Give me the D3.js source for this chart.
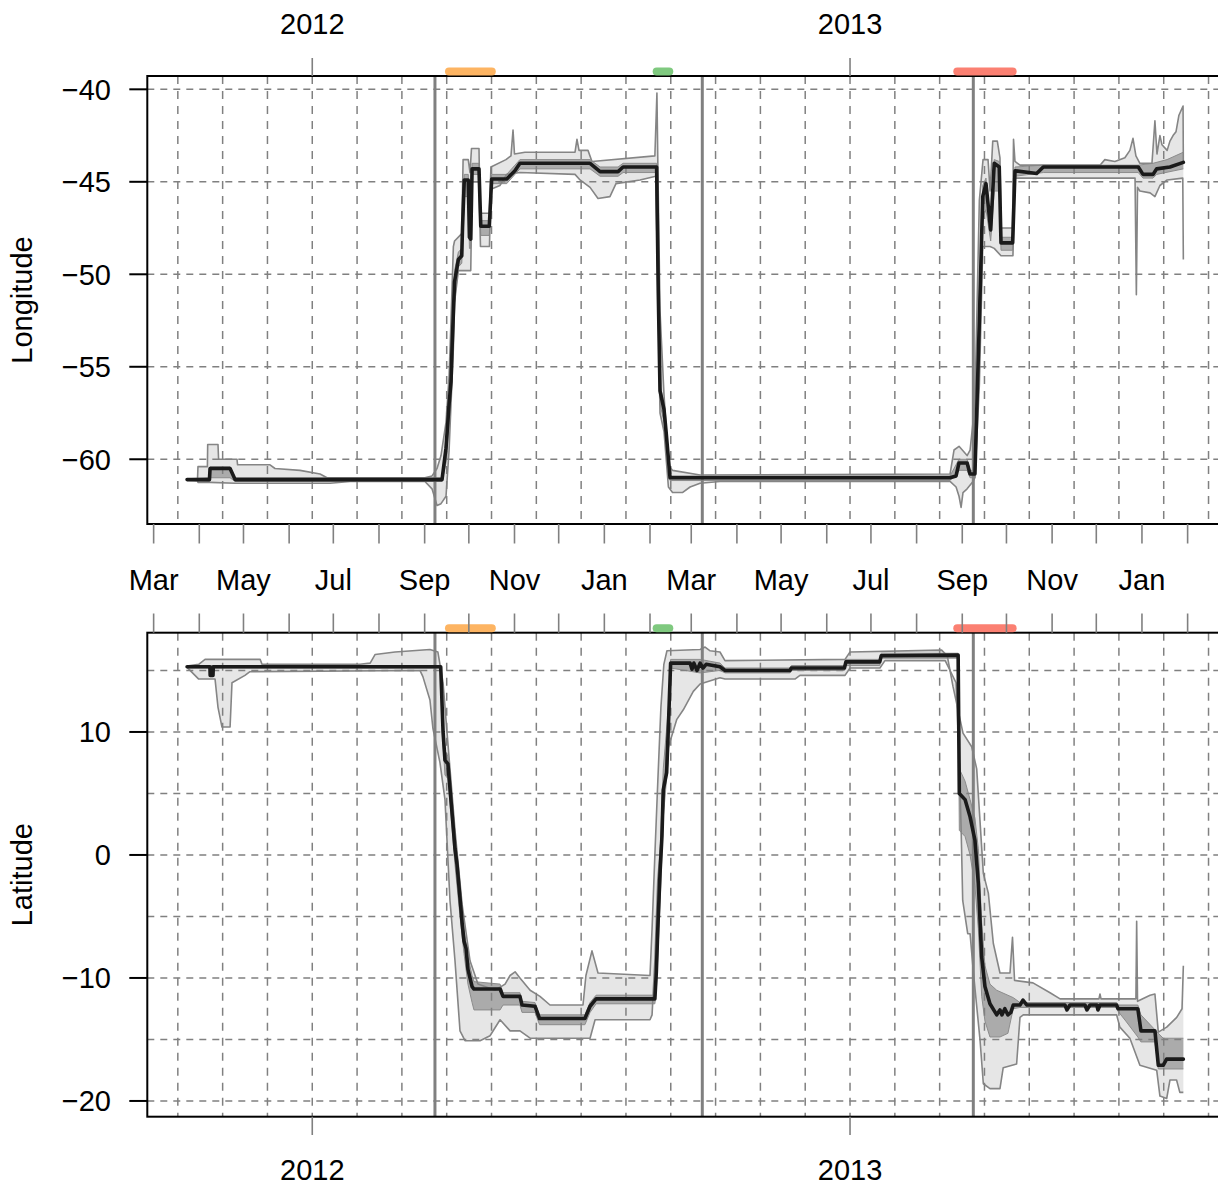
<!DOCTYPE html>
<html><head><meta charset="utf-8">
<script src="https://cdn.jsdelivr.net/npm/d3@7"></script>
<style>
body{margin:0;background:#fff}
svg{display:block}
text{font-family:"Liberation Sans",Arial,Helvetica,sans-serif;fill:#000}
</style>
</head><body>
<svg id="c" width="1218" height="1186"></svg>
<script>
// ---------- DATA (x = days since 2012-03-01, UTC) ----------
const originUTC = Date.UTC(2012, 2, 1);

// Longitude: median and credible bands
const lonMed = [[22.7,-61.1],[37.9,-61.1],[38.3,-60.5],[51.9,-60.5],[55.3,-61.1],[195.8,-61.1],[198.5,-59.4],[200.6,-57.0],[201.9,-55.8],[202.6,-54.0],[203.5,-52.1],[204.3,-50.4],[206.9,-49.2],[209.2,-49.0],[209.7,-47.5],[210.9,-44.9],[213.6,-44.9],[214.4,-48.0],[215.3,-48.1],[216.2,-44.3],[220.9,-44.3],[222.1,-47.4],[227.9,-47.4],[229.5,-44.85],[239.7,-44.85],[245.3,-44.4],[248.7,-44.0],[296.3,-44.0],[303.1,-44.45],[315.3,-44.45],[318.7,-44.2],[341.5,-44.2],[342.6,-50.9],[343.8,-56.3],[346.5,-57.3],[347.9,-58.5],[350.6,-61.0],[540.7,-61.0],[544.8,-60.9],[546.8,-60.2],[552.3,-60.2],[554.3,-60.8],[557.6,-60.8],[560.6,-52.5],[562.9,-45.8],[565.1,-45.1],[568.3,-47.6],[570.7,-44.0],[574.1,-44.2],[575.3,-48.3],[583.2,-48.3],[584.8,-44.4],[599.5,-44.55],[604.0,-44.2],[668.5,-44.2],[671.7,-44.6],[678.5,-44.6],[681.0,-44.3],[690.0,-44.2],[699.1,-43.95]];
const lonHi95 = [[22.7,-61.1],[29.8,-61.05],[30.1,-60.4],[36.5,-60.4],[36.7,-59.2],[43.7,-59.2],[44.1,-60.0],[56.6,-60.0],[57.0,-60.3],[79.0,-60.3],[82.4,-60.5],[99.4,-60.6],[113.0,-60.8],[117.7,-61.0],[184.2,-61.0],[189.0,-60.9],[192.4,-60.5],[195.1,-59.8],[198.5,-58.0],[200.6,-55.5],[201.9,-52.5],[203.5,-48.5],[204.3,-48.2],[209.2,-47.8],[210.1,-43.8],[213.6,-43.8],[214.8,-44.5],[215.8,-43.2],[220.9,-43.2],[221.6,-46.7],[228.0,-46.7],[229.0,-44.2],[239.2,-43.8],[242.6,-43.6],[244.0,-42.2],[245.0,-43.5],[252.1,-43.4],[286.1,-43.4],[287.4,-42.7],[288.8,-43.3],[294.9,-43.3],[297.6,-43.9],[340.3,-43.6],[341.7,-40.2],[342.4,-44.5],[343.8,-52.0],[346.5,-56.5],[349.5,-60.3],[352.3,-60.6],[371.0,-60.85],[540.7,-60.8],[543.4,-59.5],[546.8,-59.3],[552.3,-59.8],[554.3,-59.5],[557.6,-57.0],[560.6,-46.0],[563.1,-43.8],[566.5,-43.8],[567.9,-45.5],[569.7,-42.8],[572.8,-42.8],[574.6,-43.7],[575.3,-47.5],[583.1,-47.5],[583.8,-42.7],[584.8,-43.9],[588.2,-44.1],[642.5,-44.1],[645.8,-43.8],[652.6,-43.9],[659.4,-43.7],[662.8,-43.3],[664.9,-42.65],[666.9,-43.6],[669.6,-44.0],[677.8,-44.0],[679.8,-41.7],[681.2,-43.5],[683.2,-42.5],[684.6,-43.0],[688.1,-43.3],[690.0,-42.8],[692.1,-42.5],[694.1,-42.3],[696.1,-41.4],[698.9,-40.9],[699.1,-44.0]];
const lonLo95 = [[22.7,-61.1],[29.8,-61.15],[30.1,-61.25],[38.3,-61.25],[55.3,-61.3],[119.8,-61.3],[133.3,-61.2],[184.2,-61.2],[189.0,-61.6],[192.4,-62.5],[195.1,-62.4],[198.5,-62.0],[200.6,-59.5],[201.9,-57.0],[203.5,-54.0],[204.3,-51.5],[206.9,-49.8],[215.3,-49.8],[216.2,-45.0],[220.9,-45.0],[221.9,-48.5],[228.0,-48.5],[229.0,-45.4],[235.1,-45.2],[239.7,-44.6],[248.7,-44.5],[286.1,-44.6],[289.5,-44.9],[296.3,-45.3],[301.7,-45.9],[309.8,-45.8],[313.9,-45.1],[330.2,-44.9],[340.9,-44.7],[342.6,-52.0],[343.8,-57.5],[346.5,-58.5],[349.5,-61.5],[352.3,-61.8],[359.0,-61.8],[364.2,-61.5],[371.0,-61.3],[384.5,-61.2],[540.7,-61.2],[544.8,-61.5],[546.8,-62.0],[548.2,-62.6],[549.5,-61.8],[552.3,-61.6],[556.3,-61.2],[557.6,-61.0],[560.6,-56.0],[562.9,-48.5],[567.9,-48.5],[570.7,-48.6],[575.3,-49.0],[583.4,-49.0],[584.8,-44.8],[666.3,-44.8],[667.2,-51.1],[668.0,-45.3],[669.6,-45.5],[676.5,-45.6],[679.8,-45.8],[683.2,-45.2],[688.1,-44.9],[698.7,-44.8],[699.1,-49.2]];
const lonHi50 = [[22.7,-61.05],[37.9,-61.0],[38.3,-60.4],[51.9,-60.4],[55.3,-61.0],[195.8,-61.0],[198.5,-59.0],[200.6,-56.5],[202.6,-52.5],[204.3,-49.8],[206.9,-48.8],[209.2,-48.6],[210.9,-44.6],[213.6,-44.6],[214.4,-47.6],[215.3,-47.7],[216.2,-44.0],[220.9,-44.0],[222.1,-47.1],[227.9,-47.1],[229.5,-44.6],[239.7,-44.6],[245.3,-44.1],[248.7,-43.8],[296.3,-43.8],[303.1,-44.2],[315.3,-44.2],[318.7,-44.0],[341.5,-44.0],[342.6,-50.5],[343.8,-56.0],[346.5,-57.0],[350.6,-60.9],[540.7,-60.9],[546.8,-60.0],[552.3,-60.0],[554.3,-60.6],[557.6,-60.6],[560.6,-51.0],[562.9,-45.2],[565.1,-44.8],[568.3,-47.3],[570.7,-43.8],[574.1,-43.9],[575.3,-48.0],[583.2,-48.0],[584.8,-44.2],[604.0,-44.1],[668.5,-44.1],[678.5,-44.0],[688.0,-43.8],[699.1,-43.4]];
const lonLo50 = [[22.7,-61.15],[37.9,-61.2],[38.3,-61.0],[51.9,-61.0],[55.3,-61.2],[195.8,-61.2],[198.5,-60.2],[200.6,-58.0],[202.6,-55.5],[204.3,-51.5],[206.9,-49.6],[209.2,-49.4],[210.9,-45.8],[213.6,-45.8],[214.4,-48.6],[215.3,-48.6],[216.2,-44.6],[220.9,-44.6],[222.1,-47.9],[227.9,-47.9],[229.5,-45.1],[239.7,-45.1],[245.3,-44.6],[248.7,-44.3],[296.3,-44.3],[303.1,-44.7],[315.3,-44.7],[318.7,-44.5],[341.5,-44.5],[342.6,-51.5],[343.8,-57.0],[346.5,-58.0],[350.6,-61.15],[540.7,-61.15],[546.8,-60.6],[552.3,-60.6],[554.3,-61.0],[557.6,-61.0],[560.6,-54.0],[562.9,-47.0],[565.1,-46.5],[568.3,-48.2],[570.7,-45.5],[574.1,-45.5],[575.3,-48.7],[583.2,-48.7],[584.8,-44.7],[604.0,-44.5],[668.5,-44.5],[671.7,-44.8],[678.5,-44.8],[681.0,-44.6],[699.1,-44.3]];

// Latitude: median and credible bands
const latMed = [[22.7,15.3],[38.2,15.3],[38.4,14.6],[40.3,14.6],[40.5,15.3],[194.9,15.3],[196.5,10.0],[197.8,7.7],[199.8,7.4],[202.4,3.7],[204.6,0.5],[206.0,-0.8],[208.0,-3.5],[209.4,-5.5],[210.7,-7.0],[212.1,-7.6],[213.4,-9.3],[214.8,-10.0],[216.2,-10.7],[217.5,-10.9],[235.2,-10.9],[237.2,-11.5],[248.7,-11.5],[250.1,-12.2],[258.9,-12.3],[262.0,-13.3],[292.8,-13.3],[296.3,-12.3],[300.4,-11.7],[340.3,-11.7],[341.3,-9.5],[342.3,-6.0],[343.8,-1.5],[345.1,1.5],[346.0,5.3],[348.3,6.7],[349.5,10.5],[351.0,15.6],[364.2,15.6],[365.5,15.1],[366.8,15.6],[368.9,15.0],[371.0,15.6],[373.0,15.2],[375.1,15.5],[384.5,15.3],[388.0,15.0],[432.0,15.0],[433.0,15.2],[469.0,15.2],[470.0,15.7],[493.0,15.7],[494.0,16.2],[546.2,16.25],[547.0,5.0],[550.9,4.5],[554.3,3.1],[557.6,1.2],[559.9,-2.3],[562.2,-8.3],[564.4,-10.7],[567.8,-12.1],[572.4,-13.0],[574.6,-12.6],[575.9,-13.0],[577.9,-12.5],[580.0,-13.0],[582.0,-12.8],[583.6,-12.2],[588.2,-12.2],[590.2,-11.8],[592.9,-12.2],[618.7,-12.2],[620.1,-12.6],[622.1,-12.2],[632.3,-12.2],[633.6,-12.6],[635.7,-12.2],[640.4,-12.2],[641.1,-12.6],[642.5,-12.2],[653.8,-12.2],[654.7,-12.5],[668.2,-12.5],[670.3,-14.3],[679.8,-14.3],[682.1,-17.1],[685.4,-17.1],[687.7,-16.6],[699.1,-16.6]];
const latHi95 = [[22.7,15.35],[30.6,15.5],[34.9,15.9],[72.3,15.9],[73.6,15.5],[140.1,15.5],[147.0,15.6],[150.4,16.3],[163.9,16.5],[187.6,16.7],[193.0,16.5],[196.5,14.0],[198.5,11.0],[201.2,7.0],[204.6,2.0],[209.4,-4.0],[214.8,-8.6],[220.2,-10.5],[231.8,-11.0],[238.6,-10.5],[242.0,-9.8],[245.4,-9.5],[248.7,-10.0],[255.6,-11.0],[262.3,-11.5],[269.1,-12.2],[291.5,-12.2],[293.5,-9.8],[297.6,-7.8],[301.7,-9.6],[337.0,-9.8],[338.4,-6.0],[340.3,0.0],[342.3,6.0],[344.4,12.0],[346.4,15.5],[348.5,16.6],[371.0,16.7],[374.4,16.9],[377.8,16.6],[384.5,16.5],[387.9,15.8],[469.4,15.9],[472.8,16.5],[535.0,16.65],[538.8,16.2],[542.7,13.7],[549.5,9.9],[555.4,8.8],[558.8,7.0],[563.3,-1.5],[566.7,-3.1],[570.1,-7.2],[574.6,-9.6],[581.4,-9.6],[583.1,-6.7],[584.5,-10.2],[597.0,-10.4],[608.6,-11.2],[615.4,-11.7],[641.8,-11.7],[642.5,-11.3],[643.2,-11.7],[666.9,-11.7],[667.4,-5.4],[668.0,-11.9],[676.5,-11.4],[679.8,-11.3],[682.1,-14.4],[687.8,-14.0],[694.6,-13.2],[698.2,-12.5],[699.1,-9.0]];
const latLo95 = [[22.7,15.25],[30.6,14.3],[41.7,14.3],[43.7,12.0],[46.4,10.4],[51.9,10.4],[53.2,14.0],[62.0,14.6],[65.4,14.9],[180.8,15.0],[182.8,14.5],[187.6,12.6],[189.6,10.3],[194.4,7.5],[197.8,4.5],[201.2,-3.7],[204.6,-8.6],[208.0,-14.3],[211.4,-15.1],[221.6,-15.1],[228.4,-14.7],[235.2,-13.4],[242.0,-14.3],[248.7,-14.3],[255.6,-14.9],[296.3,-14.9],[299.7,-13.4],[337.0,-13.4],[338.4,-13.0],[340.3,-8.6],[342.3,-2.0],[345.1,2.0],[348.3,8.3],[355.1,11.0],[359.6,11.8],[366.4,13.3],[371.0,13.9],[384.5,14.4],[387.9,14.3],[435.4,14.3],[438.8,14.6],[469.4,14.6],[472.8,15.2],[493.1,15.2],[496.5,15.8],[537.4,15.8],[544.8,14.0],[546.8,8.0],[548.2,2.3],[549.3,-3.7],[552.7,-6.4],[554.3,-6.4],[556.6,-9.6],[561.1,-15.1],[563.3,-18.6],[567.8,-19.0],[574.6,-19.0],[576.8,-17.3],[585.9,-17.0],[588.2,-13.2],[590.4,-13.0],[653.8,-13.0],[656.0,-14.0],[662.8,-14.9],[669.6,-17.1],[681.0,-17.5],[683.2,-19.6],[687.8,-19.8],[690.0,-18.3],[694.5,-18.3],[696.7,-19.3],[699.1,-19.3]];
const latHi50 = [[22.7,15.4],[194.9,15.4],[196.5,11.0],[197.8,8.5],[199.8,8.0],[202.4,4.8],[204.6,1.8],[208.0,-2.5],[210.7,-6.0],[213.4,-8.3],[216.2,-9.8],[217.5,-10.3],[235.2,-10.5],[237.2,-11.2],[248.7,-11.2],[250.1,-11.9],[258.9,-12.0],[262.0,-13.0],[292.8,-13.0],[296.3,-12.0],[300.4,-11.4],[340.3,-11.4],[341.3,-8.5],[343.8,0.0],[346.0,7.0],[349.5,12.0],[351.0,15.9],[371.0,15.9],[384.5,15.6],[388.0,15.2],[432.0,15.2],[433.0,15.4],[469.0,15.4],[470.0,15.9],[493.0,15.9],[494.0,16.4],[546.2,16.4],[547.0,7.0],[550.9,6.0],[554.3,4.5],[557.6,3.0],[559.9,0.5],[562.2,-5.5],[564.4,-9.0],[567.8,-10.5],[572.4,-11.0],[583.6,-11.6],[588.2,-12.0],[653.8,-12.0],[654.7,-12.2],[668.2,-12.2],[670.3,-13.0],[682.1,-14.5],[685.4,-14.9],[699.1,-14.9]];
const latLo50 = [[22.7,15.2],[194.9,15.2],[196.5,9.0],[197.8,6.5],[199.8,6.2],[202.4,2.5],[204.6,-0.8],[208.0,-5.0],[210.7,-8.0],[213.4,-10.5],[216.2,-12.0],[217.5,-12.6],[235.2,-12.6],[237.2,-12.2],[248.7,-12.2],[250.1,-12.8],[258.9,-12.8],[262.0,-13.8],[292.8,-13.8],[296.3,-12.8],[300.4,-12.1],[340.3,-12.1],[341.3,-11.0],[343.8,-4.0],[346.0,3.0],[349.5,8.0],[351.0,15.2],[371.0,14.8],[384.5,15.0],[388.0,14.8],[432.0,14.8],[433.0,15.0],[469.0,15.0],[470.0,15.4],[493.0,15.4],[494.0,16.0],[546.2,16.0],[547.0,2.0],[550.9,1.5],[554.3,0.0],[557.6,-2.5],[559.9,-6.0],[562.2,-11.5],[564.4,-13.5],[567.8,-14.8],[574.6,-14.8],[580.0,-14.5],[583.6,-12.5],[588.2,-12.4],[653.8,-12.4],[654.7,-12.7],[660.0,-13.5],[668.2,-14.8],[670.3,-15.2],[679.8,-15.2],[682.1,-17.4],[699.1,-17.4]];

// Migration periods (coloured bars) and equinox lines
const periodStart = [197.8, 338.8, 542.9];
const periodEnd   = [232.3, 352.8, 585.9];
const equinoxDays = [191.0, 372.5, 556.5];

// Axis tick labels
const yearTickDays   = [107.7, 472.8];
const yearTickLabels = ["2012", "2013"];
const lonTicks = [-60, -55, -50, -45, -40];
const latGrid  = [-20, -15, -10, -5, 0, 5, 10, 15];
const latTicks = [-20, -10, 0, 10];

// ---------- STYLES / LAYOUT ----------
const periodColors = ["#FDB462", "#7FC97F", "#FB8072"];
const FONT = 29;
const dayToDate = d => new Date(originUTC + d * 864e5);
const X0 = 147.3, X1 = 1224;

const svg = d3.select("#c");
const x = d3.scaleUtc().domain([dayToDate(-4.3), dayToDate(726.7)]).range([X0, X1]);

const panels = [
  {id:"lon", top:76, bottom:524, dom:[-63.5,-39.28], med:lonMed, hi95:lonHi95, lo95:lonLo95, hi50:lonHi50, lo50:lonLo50, grid:lonTicks, ticks:lonTicks, title:"Longitude"},
  {id:"lat", top:632.7, bottom:1116.7, dom:[-21.28,18.07], med:latMed, hi95:latHi95, lo95:latLo95, hi50:latHi50, lo50:latLo50, grid:latGrid, ticks:latTicks, title:"Latitude"}
];

// vertical grid: monthly (1/12 year) steps anchored on the year ticks
const gridStep = (yearTickDays[1] - yearTickDays[0]) / 12;
const vGridDays = d3.range(-3, 21).map(k => yearTickDays[0] + k * gridStep);

const defs = svg.append("defs");

panels.forEach(p => {
  const y = d3.scaleLinear().domain(p.dom).range([p.bottom, p.top]);
  const g = svg.append("g");
  defs.append("clipPath").attr("id", "clip-" + p.id)
    .append("rect").attr("x", X0).attr("y", p.top).attr("width", X1 - X0).attr("height", p.bottom - p.top);
  const inner = g.append("g").attr("clip-path", `url(#clip-${p.id})`);

  const line = d3.line().x(d => x(dayToDate(d[0]))).y(d => y(d[1]));
  const band = (hi, lo) => line(hi.concat(lo.slice().reverse())) + "Z";

  // outer band
  inner.append("path").attr("d", band(p.hi95, p.lo95)).attr("fill", "#e6e6e6").attr("stroke", "none");
  // inner band
  inner.append("path").attr("d", band(p.hi50, p.lo50)).attr("fill", "#ababab").attr("stroke", "none");
  inner.append("path").attr("d", line(p.hi50)).attr("fill", "none").attr("stroke", "#8c8c8c").attr("stroke-width", 1);
  inner.append("path").attr("d", line(p.lo50)).attr("fill", "none").attr("stroke", "#8c8c8c").attr("stroke-width", 1);
  // outer band edges
  [p.hi95, p.lo95].forEach(s => inner.append("path").attr("d", line(s))
    .attr("fill", "none").attr("stroke", "#858585").attr("stroke-width", 1.6).attr("stroke-linejoin", "round"));

  // grid
  inner.selectAll(null).data(p.grid).join("line")
    .attr("x1", X0).attr("x2", X1).attr("y1", d => y(d)).attr("y2", d => y(d))
    .attr("stroke", "#808080").attr("stroke-width", 1.5).attr("stroke-dasharray", "7,6");
  inner.selectAll(null).data(vGridDays).join("line")
    .attr("x1", d => x(dayToDate(d))).attr("x2", d => x(dayToDate(d)))
    .attr("y1", p.top).attr("y2", p.bottom)
    .attr("stroke", "#808080").attr("stroke-width", 1.5).attr("stroke-dasharray", "8,7");

  // equinox lines
  inner.selectAll(null).data(equinoxDays).join("line")
    .attr("x1", d => x(dayToDate(d))).attr("x2", d => x(dayToDate(d)))
    .attr("y1", p.top).attr("y2", p.bottom)
    .attr("stroke", "#808080").attr("stroke-width", 3);

  // median
  inner.append("path").attr("d", line(p.med)).attr("fill", "none")
    .attr("stroke", "#1a1a1a").attr("stroke-width", 3.6)
    .attr("stroke-linejoin", "round").attr("stroke-linecap", "round");

  // box
  g.append("rect").attr("x", X0).attr("y", p.top).attr("width", X1 + 10 - X0).attr("height", p.bottom - p.top)
    .attr("fill", "none").attr("stroke", "#000").attr("stroke-width", 2);

  // migration bars
  g.selectAll(null).data(periodStart).join("line")
    .attr("x1", (d, i) => x(dayToDate(d)) + 4)
    .attr("x2", (d, i) => x(dayToDate(periodEnd[i])) - 4)
    .attr("y1", p.top - 4.5).attr("y2", p.top - 4.5)
    .attr("stroke", (d, i) => periodColors[i]).attr("stroke-width", 8).attr("stroke-linecap", "round");

  // y axis
  const ya = g.append("g");
  ya.selectAll(null).data(p.ticks).join("line")
    .attr("x1", X0 - 18).attr("x2", X0).attr("y1", d => y(d)).attr("y2", d => y(d))
    .attr("stroke", "#000").attr("stroke-width", 2);
  const fmt = d3.format("d");
  ya.selectAll(null).data(p.ticks).join("text")
    .attr("x", 111).attr("y", d => y(d)).attr("dy", "0.36em")
    .attr("text-anchor", "end").attr("font-size", FONT).text(d => fmt(d));
  g.append("text").attr("transform", `translate(32,${(p.top + p.bottom) / 2}) rotate(-90)`)
    .attr("text-anchor", "middle").attr("font-size", FONT).text(p.title);
});

// month axis between panels
const months = d3.utcMonth.range(dayToDate(-4.3), dayToDate(726.7));
const monthFmt = d3.utcFormat("%b");
const mx = d => x(d);
svg.selectAll(null).data(months).join("line")
  .attr("x1", mx).attr("x2", mx).attr("y1", 524).attr("y2", 543.5)
  .attr("stroke", "#808080").attr("stroke-width", 1.6);
svg.selectAll(null).data(months).join("line")
  .attr("x1", mx).attr("x2", mx).attr("y1", 632.7).attr("y2", 613.5)
  .attr("stroke", "#808080").attr("stroke-width", 1.6);
svg.selectAll(null).data(months.filter(m => (m.getUTCMonth() % 2) === 0)).join("text")
  .attr("x", mx).attr("y", 589.5).attr("text-anchor", "middle").attr("font-size", FONT)
  .text(d => monthFmt(d));

// year axes (top & bottom)
[[76, 58, 33.5], [1116.7, 1135, 1180]].forEach(([y0, y1, ty]) => {
  svg.selectAll(null).data(yearTickDays).join("line")
    .attr("x1", d => x(dayToDate(d))).attr("x2", d => x(dayToDate(d)))
    .attr("y1", y0).attr("y2", y1).attr("stroke", "#808080").attr("stroke-width", 1.6);
  svg.selectAll(null).data(yearTickDays).join("text")
    .attr("x", d => x(dayToDate(d))).attr("y", ty).attr("text-anchor", "middle")
    .attr("font-size", FONT).text((d, i) => yearTickLabels[i]);
});
</script>
</body></html>
